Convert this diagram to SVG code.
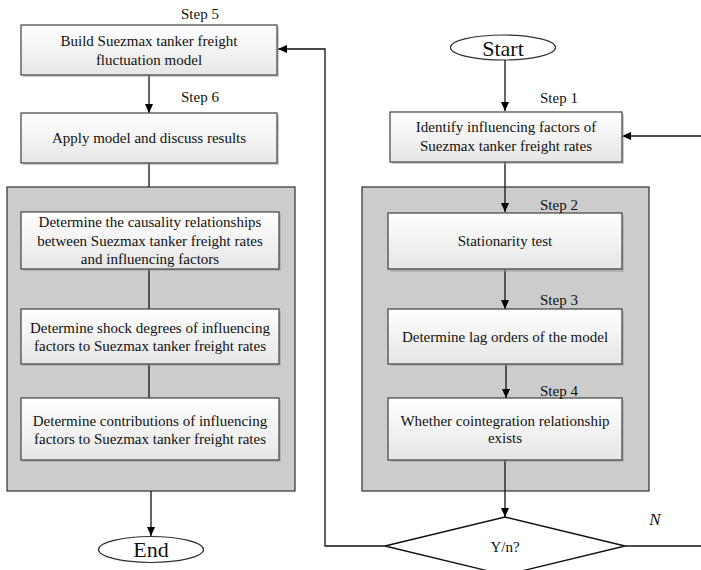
<svg xmlns="http://www.w3.org/2000/svg" width="701" height="570" viewBox="0 0 701 570">
<defs>
<linearGradient id="boxg" x1="0" y1="0" x2="0" y2="1">
<stop offset="0" stop-color="#ffffff"/>
<stop offset="1" stop-color="#e6e6e6"/>
</linearGradient>
<marker id="ah" markerWidth="10" markerHeight="8" refX="9" refY="4" orient="auto" markerUnits="userSpaceOnUse">
<path d="M0,0 L9,4 L0,8 Z" fill="#000"/>
</marker>
</defs>
<style>
.box{fill:url(#boxg);stroke:#404040;stroke-width:1.2}
.shadow{fill:#9a9a9a;opacity:0.5}
.panel{fill:#cccccc;stroke:#303030;stroke-width:1.2}
.term{fill:#ffffff;stroke:#303030;stroke-width:1.2}
.t{font-family:"Liberation Serif","Times New Roman",serif;font-size:15px;fill:#111;text-anchor:middle}
.big{font-size:22px}
.ln{fill:none;stroke:#111;stroke-width:1.3}
.arr{fill:none;stroke:#111;stroke-width:1.3;marker-end:url(#ah)}
</style>
<rect width="701" height="570" fill="#ffffff"/>

<g id="panel-left"><rect class="panel" x="7" y="187" width="288" height="304"/></g>
<g id="panel-right"><rect class="panel" x="362" y="187" width="287" height="304"/></g>

<g id="connectors">
<line class="arr" x1="149" y1="75" x2="149" y2="113"/>
<line class="ln" x1="149" y1="163" x2="149" y2="187"/>
<line class="ln" x1="149" y1="269" x2="149" y2="309"/>
<line class="ln" x1="149" y1="364" x2="149" y2="398"/>
<line class="arr" x1="151" y1="491" x2="151" y2="536"/>
<line class="arr" x1="505" y1="60" x2="505" y2="111"/>
<line class="arr" x1="701" y1="136" x2="622" y2="136"/>
<line class="arr" x1="505" y1="162" x2="505" y2="212"/>
<line class="arr" x1="505" y1="269" x2="505" y2="309"/>
<line class="arr" x1="506" y1="364" x2="506" y2="398"/>
<line class="arr" x1="505" y1="460" x2="505" y2="517"/>
<polyline class="arr" points="385,546 325,546 325,49 278,49"/>
<line class="ln" x1="625" y1="546" x2="701" y2="546"/>
</g>

<g id="start"><ellipse class="term" cx="503" cy="47.5" rx="52.5" ry="12.5"/><text class="t big" x="503" y="56">Start</text></g>

<g id="step5">
<rect class="shadow" x="23" y="27" width="256" height="50"/>
<rect class="box" x="21" y="25" width="256" height="50"/>
<text class="t" x="200" y="19">Step 5</text>
<text class="t" x="149" y="46">Build Suezmax tanker freight</text>
<text class="t" x="149" y="65">fluctuation model</text>
</g>

<g id="step6">
<rect class="shadow" x="23" y="115" width="256" height="50"/>
<rect class="box" x="21" y="113" width="256" height="50"/>
<text class="t" x="200" y="102">Step 6</text>
<text class="t" x="149" y="143">Apply model and discuss results</text>
</g>

<g id="causality">
<rect class="shadow" x="23" y="214" width="258" height="57"/>
<rect class="box" x="21" y="212" width="258" height="57"/>
<text class="t" x="150" y="227">Determine the causality relationships</text>
<text class="t" x="150" y="246">between Suezmax tanker freight rates</text>
<text class="t" x="150" y="264">and influencing factors</text>
</g>

<g id="shock">
<rect class="shadow" x="23" y="311" width="258" height="55"/>
<rect class="box" x="21" y="309" width="258" height="55"/>
<text class="t" x="150" y="333">Determine shock degrees of influencing</text>
<text class="t" x="150" y="351">factors to Suezmax tanker freight rates</text>
</g>

<g id="contrib">
<rect class="shadow" x="23" y="400" width="258" height="62"/>
<rect class="box" x="21" y="398" width="258" height="62"/>
<text class="t" x="150" y="426">Determine contributions of influencing</text>
<text class="t" x="150" y="444">factors to Suezmax tanker freight rates</text>
</g>

<g id="end"><ellipse class="term" cx="151" cy="549.5" rx="52.5" ry="13"/><text class="t big" x="151" y="557">End</text></g>

<g id="step1">
<rect class="shadow" x="392" y="114" width="232" height="50"/>
<rect class="box" x="390" y="112" width="232" height="50"/>
<text class="t" x="559" y="103">Step 1</text>
<text class="t" x="506" y="132">Identify influencing factors of</text>
<text class="t" x="506" y="151">Suezmax tanker freight rates</text>
</g>

<g id="step2">
<rect class="shadow" x="390" y="215" width="234" height="57"/>
<rect class="box" x="388" y="213" width="234" height="56"/>
<text class="t" x="559" y="210">Step 2</text>
<text class="t" x="505" y="246">Stationarity test</text>
</g>

<g id="step3">
<rect class="shadow" x="390" y="311" width="234" height="55"/>
<rect class="box" x="388" y="309" width="234" height="55"/>
<text class="t" x="559" y="305">Step 3</text>
<text class="t" x="505" y="342">Determine lag orders of the model</text>
</g>

<g id="step4">
<rect class="shadow" x="390" y="400" width="234" height="62"/>
<rect class="box" x="388" y="398" width="234" height="62"/>
<text class="t" x="559" y="396">Step 4</text>
<text class="t" x="505" y="426">Whether cointegration relationship</text>
<text class="t" x="505" y="443">exists</text>
</g>

<g id="decision">
<polygon points="505,517 625,546 505,575 385,546" fill="#ffffff" stroke="#111" stroke-width="1.3"/>
<text class="t" x="505" y="552">Y/n?</text>
<text class="t" x="655" y="525" style="font-style:italic;font-size:17px">N</text>
</g>
</svg>
